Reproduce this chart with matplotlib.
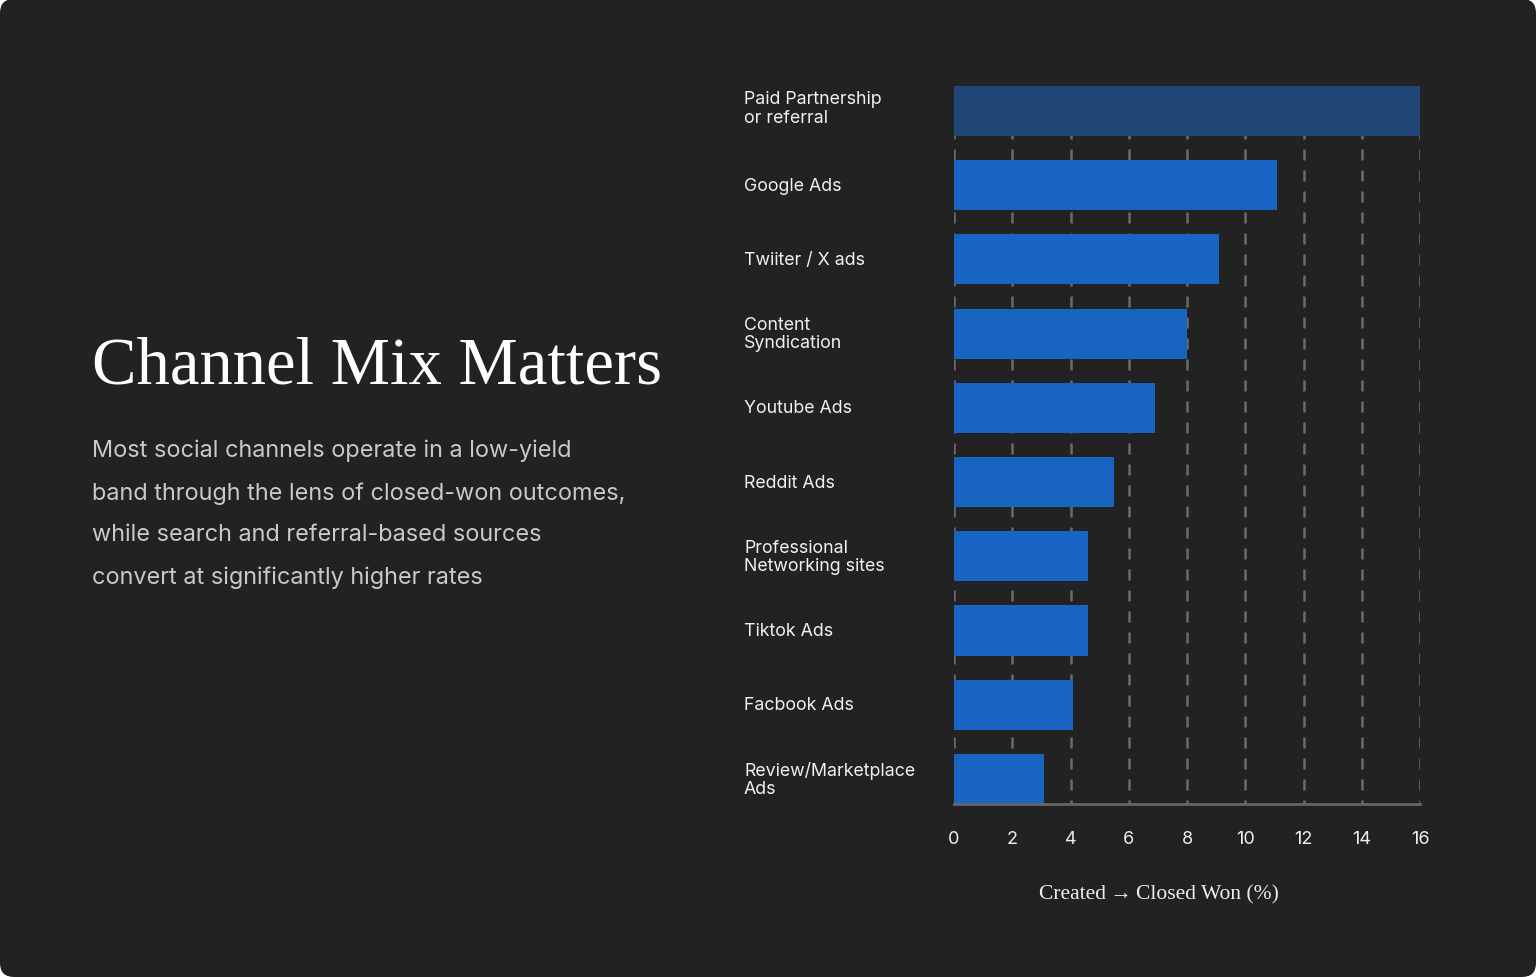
import matplotlib
matplotlib.use("Agg")
import matplotlib.pyplot as plt
from matplotlib.patches import FancyBboxPatch

categories = [
    "Paid Partnership\nor referral",
    "Google Ads",
    "Twiiter / X ads",
    "Content\nSyndication",
    "Youtube Ads",
    "Reddit Ads",
    "Professional\nNetworking sites",
    "Tiktok Ads",
    "Facbook Ads",
    "Review/Marketplace\nAds",
]
values = [16.0, 11.1, 9.1, 8.0, 6.9, 5.5, 4.6, 4.6, 4.1, 3.1]
xticks = [0, 2, 4, 6, 8, 10, 12, 14, 16]

title = "Channel Mix Matters"
body = ("Most social channels operate in a low-yield\n"
        "band through the lens of closed-won outcomes,\n"
        "while search and referral-based sources\n"
        "convert at significantly higher rates")
xlabel = "Created\u2009\u2192\u2009Closed Won (%)"

BG = "#222222"
W, H = 1536, 978
fig = plt.figure(figsize=(W / 100, H / 100), dpi=100)
fig.patch.set_facecolor("white")
bgax = fig.add_axes([0, 0, 1, 1])
bgax.set_xlim(0, W)
bgax.set_ylim(H, 0)
bgax.axis("off")
bgax.add_patch(FancyBboxPatch((0, 0), W, H, boxstyle="round,pad=0,rounding_size=14",
                              facecolor=BG, edgecolor="none"))

sans = ["Inter", "DejaVu Sans"]
serif = ["Liberation Serif", "DejaVu Serif"]

bgax.text(92, 383, title, fontsize=48, color="white", family=serif, va="baseline", ha="left")
bgax.text(92, 440, body, fontsize=16.9, color="#c9c9c9", family=sans, va="top", ha="left",
          linespacing=2.14)

# chart axes
left, right = 954, 1420
top, bottom = 80, 805
ax = fig.add_axes([left / W, 1 - bottom / H, (right - left) / W, (bottom - top) / H])
ax.set_facecolor("none")
n = len(categories)
ypos = list(range(n))
colors = ["#1f4677"] + ["#1764c2"] * (n - 1)
ax.barh(ypos, values, height=0.675, color=colors, zorder=3, left=0)
ax.set_ylim(n - 1 + 0.337, -0.431)
ax.set_xlim(0, 16)
ax.vlines(xticks, -0.3375, n - 1 + 0.337, color="#6a6a6a", lw=1.8,
          linestyles=[(0, (4.4, 4.0))], zorder=1)
for s in ["top", "right", "left"]:
    ax.spines[s].set_visible(False)
ax.spines["bottom"].set_color("#666666")
ax.spines["bottom"].set_linewidth(2)
ax.spines["bottom"].set_zorder(4)
ax.set_xticks(xticks)
ax.set_xticklabels([str(t) for t in xticks], fontsize=13, color="#eeeeee", family=sans)
ax.tick_params(axis="x", length=0, pad=19)
ax.set_yticks([])

bgax.text(1159, 895, xlabel, fontsize=15.5, color="#eeeeee", family=serif,
          ha="center", va="center")

for y, lab in zip(ypos, categories):
    dy = -0.04 if "\n" in lab and y == 0 else 0
    ax.text(-210 / 29.125, y + dy, lab, fontsize=12.8, color="#f0f0f0", family=sans,
            ha="left", va="center", linespacing=1.12, clip_on=False)

fig.savefig("out.png", dpi=100, facecolor=fig.get_facecolor())
